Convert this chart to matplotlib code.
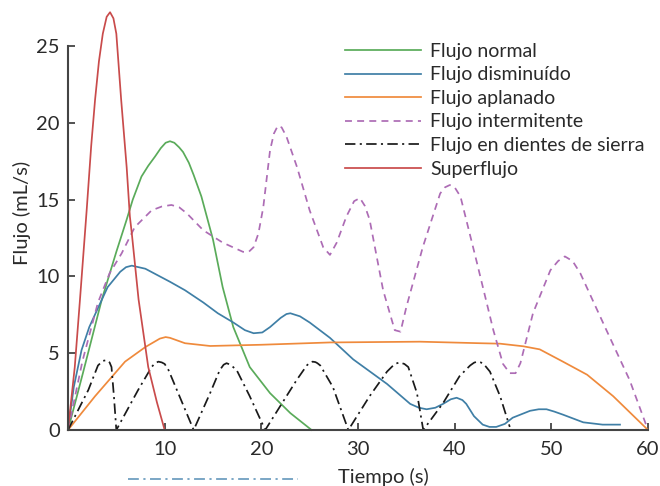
import matplotlib
matplotlib.use("Agg")
import matplotlib.pyplot as plt
from matplotlib.lines import Line2D

plt.rcParams['font.family'] = ['Lato', 'DejaVu Sans']

# ---- data ----
normal_x = [0, 1.5, 3.5, 5.0, 6.07, 6.7, 7.6, 8.3, 9.0, 9.6, 10.1, 10.55, 11.0, 11.5, 11.9, 12.5, 13.0, 13.8, 15.0, 16.0, 17.1, 18.8, 20.9, 23.0, 25.2]
normal_y = [0, 3.6, 8.5, 11.6, 13.7, 15.0, 16.5, 17.2, 17.8, 18.35, 18.7, 18.8, 18.7, 18.4, 18.1, 17.4, 16.6, 15.2, 12.4, 9.3, 6.7, 4.1, 2.4, 1.1, 0]

dismin_x = [0, 0.6, 1.4, 2.2, 3.0, 4.1, 5.4, 6.0, 6.6, 8.0, 10.55, 12.1, 14.0, 15.5, 17.1, 18.3, 19.2, 20.1, 20.9, 22.0, 22.6, 23.0, 24.0, 25.0, 27.1, 29.5, 33.0, 35.4, 36.3, 37.1, 38.0, 38.8, 39.6, 40.2, 40.8, 41.2, 42.0, 42.9, 43.6, 44.3, 45.2, 46.0, 47.8, 48.7, 49.5, 50.3, 51.2, 53.3, 55.3, 57.1]
dismin_y = [0, 2.8, 5.2, 6.7, 7.8, 9.3, 10.3, 10.6, 10.7, 10.5, 9.65, 9.1, 8.3, 7.6, 7.0, 6.5, 6.3, 6.35, 6.7, 7.3, 7.55, 7.6, 7.4, 7.0, 6.0, 4.6, 3.0, 1.7, 1.45, 1.35, 1.45, 1.7, 2.0, 2.1, 1.95, 1.7, 0.9, 0.35, 0.2, 0.2, 0.4, 0.8, 1.25, 1.35, 1.35, 1.2, 1.0, 0.5, 0.35, 0.35]

aplan_x = [0, 2.8, 5.9, 8.0, 9.5, 10.1, 10.55, 12.1, 14.7, 20.0, 27.1, 36.4, 42.6, 44.7, 47.1, 48.8, 51.2, 53.7, 56.4, 60.0]
aplan_y = [0, 2.2, 4.45, 5.4, 5.95, 6.05, 6.0, 5.65, 5.47, 5.55, 5.7, 5.75, 5.65, 5.62, 5.45, 5.25, 4.45, 3.6, 2.2, 0]

interm_x = [0, 1.5, 3.1, 4.3, 5.55, 6.9, 8.65, 9.7, 10.7, 11.5, 12.3, 14.0, 16.0, 18.1, 18.7, 19.2, 19.7, 20.2, 20.9, 21.3, 21.7, 22.1, 22.6, 23.7, 25.0, 26.4, 27.1, 27.8, 28.8, 29.6, 30.2, 30.7, 31.2, 32.6, 33.8, 34.4, 35.0, 36.7, 38.5, 39.0, 39.5, 40.0, 40.6, 42.3, 44.0, 45.0, 45.7, 46.3, 46.8, 48.1, 49.9, 50.7, 51.4, 52.2, 53.0, 55.7, 58.1, 60.0]
interm_y = [0, 4.5, 8.3, 10.2, 11.5, 13.2, 14.3, 14.55, 14.65, 14.5, 14.1, 13.0, 12.2, 11.6, 11.6, 11.9, 12.8, 14.5, 18.2, 19.3, 19.8, 19.7, 19.1, 17.1, 14.3, 11.9, 11.4, 12.2, 13.9, 14.9, 15.1, 14.6, 13.7, 9.1, 6.5, 6.4, 8.0, 11.9, 15.4, 15.8, 15.95, 15.8, 15.2, 10.9, 6.5, 4.3, 3.7, 3.7, 4.35, 7.6, 10.4, 11.0, 11.3, 11.0, 10.2, 6.5, 3.25, 0]

sierra_x = [0, 2.1, 3.1, 3.6, 4.0, 4.3, 4.5, 4.75, 5.0, 7.25, 8.65, 9.0, 9.35, 9.7, 10.0, 10.4, 11.4, 12.2, 13.0, 14.7, 15.7, 16.1, 16.4, 16.8, 17.45, 18.8, 20.4, 21.9, 23.65, 24.7, 25.0, 25.3, 25.6, 25.8, 26.1, 27.4, 29.0, 31.2, 33.0, 33.8, 34.3, 34.8, 35.2, 36.1, 36.75, 38.8, 40.5, 41.6, 42.0, 42.3, 42.7, 43.0, 43.65, 44.7, 45.7]
sierra_y = [0, 2.6, 4.2, 4.5, 4.55, 4.4, 4.1, 2.2, 0, 2.6, 4.1, 4.35, 4.45, 4.4, 4.3, 3.9, 2.4, 1.2, 0, 2.4, 3.9, 4.25, 4.35, 4.25, 3.9, 2.2, 0, 1.5, 3.25, 4.2, 4.38, 4.45, 4.42, 4.35, 4.2, 2.8, 0, 2.2, 3.8, 4.3, 4.4, 4.3, 4.1, 2.4, 0, 1.75, 3.5, 4.2, 4.38, 4.45, 4.4, 4.3, 3.8, 2.2, 0.2]

super_x = [0, 0.7, 1.24, 1.93, 2.4, 2.8, 3.2, 3.6, 4.0, 4.35, 4.7, 5.0, 5.5, 6.07, 6.4, 6.6, 7.3, 8.3, 9.2, 10.0]
super_y = [0, 4.1, 8.5, 14.3, 18.5, 21.5, 24.0, 25.8, 26.9, 27.2, 26.8, 25.8, 21.5, 17.1, 13.9, 12.8, 8.5, 4.1, 1.8, 0]

labels = ["Flujo normal", "Flujo disminuído", "Flujo aplanado", "Flujo intermitente",
          "Flujo en dientes de sierra", "Superflujo"]
colors = ["#5aab5a", "#3f7fa6", "#ef8a3c", "#ad6cb5", "#1a1a1a", "#c94b4b"]
xticks = [10, 20, 30, 40, 50, 60]
yticks = [0, 5, 10, 15, 20, 25]

fig = plt.figure(figsize=(6.6, 4.86), dpi=100)
W, H = 660, 486
ax_left, ax_right = 68, 648
ax_bottom, ax_top = 430, 7.6
ax = fig.add_axes([ax_left / W, 1 - ax_bottom / H, (ax_right - ax_left) / W, (ax_bottom - ax_top) / H])
ax.set_xlim(0, 60)
ax.set_ylim(0, 27.5)

lw = 1.25
series = [(normal_x, normal_y), (dismin_x, dismin_y), (aplan_x, aplan_y),
          (interm_x, interm_y), (sierra_x, sierra_y), (super_x, super_y)]
styles = ['-', '-', '-', (0, (4, 3)), (0, (6, 2.5, 1.2, 2.5)), '-']
handles = []
for (xs, ys), lab, c, ls in zip(series, labels, colors, styles):
    h, = ax.plot(xs, ys, color=c, lw=lw, ls=ls, label=lab, clip_on=False,
                 solid_joinstyle='round', dash_joinstyle='round')
    handles.append(h)

for s in ['top', 'right']:
    ax.spines[s].set_visible(False)
for s in ['left', 'bottom']:
    ax.spines[s].set_color('#444444')
    ax.spines[s].set_linewidth(1.5)
ax.spines['left'].set_bounds(0, 25)
ax.spines['bottom'].set_bounds(0, 60)

ax.set_xticks(xticks)
ax.set_yticks(yticks)
ax.tick_params(axis='both', direction='in', length=5, width=1.3, color='#444444',
               labelsize=14.5, labelcolor='#2a2a2a')
ax.tick_params(axis='y', pad=6)
ax.tick_params(axis='x', pad=8)

ax.set_xlabel("Tiempo (s)", fontsize=14.5, color='#2a2a2a')
ax.set_ylabel("Flujo (mL/s)", fontsize=14.5, color='#2a2a2a')
ax.xaxis.set_label_coords((383 - ax_left) / (ax_right - ax_left), -(477 - ax_bottom) / (ax_bottom - ax_top), transform=ax.transAxes)
ax.yaxis.set_label_coords((22 - ax_left) / (ax_right - ax_left), (ax_bottom - 213) / (ax_bottom - ax_top), transform=ax.transAxes)
ax.xaxis.label.set_va('center')
ax.yaxis.label.set_va('center')

leg = ax.legend(handles=handles, loc='upper left',
                bbox_to_anchor=((343 - ax_left) / (ax_right - ax_left), (ax_bottom - 41) / (ax_bottom - ax_top)),
                frameon=True, fancybox=False, borderpad=0.1, borderaxespad=0, fontsize=14,
                handlelength=3.9, handletextpad=0.5, labelspacing=0.335)
leg.get_frame().set_edgecolor('none')
leg.get_frame().set_facecolor('white')
leg.get_frame().set_alpha(1)
for t in leg.get_texts():
    t.set_color('#2a2a2a')

# decorative dash-dot stroke below the axis (present in the reference)
fig.add_artist(Line2D([128 / W, 298 / W], [1 - 479 / H, 1 - 479 / H], color='#6f9fc0', lw=1.3,
                      ls=(0, (6, 2.5, 1.2, 2.5)), transform=fig.transFigure))

fig.savefig("out.png", dpi=100)
